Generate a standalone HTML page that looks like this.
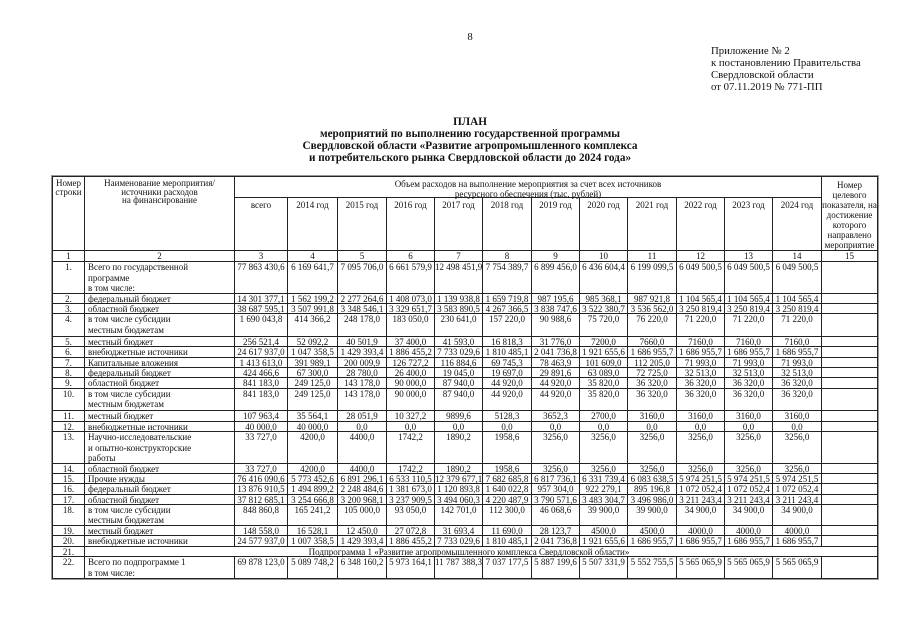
<!DOCTYPE html>
<html>
<head>
<meta charset="utf-8">
<style>
html,body{margin:0;padding:0;background:#fff;}
body{width:905px;height:640px;position:relative;overflow:hidden;font-family:"Liberation Serif","Noto Serif CJK SC",serif;color:#111;}
.pg{position:absolute;left:440px;width:60px;top:31px;text-align:center;font-size:10.75px;line-height:12px;}
.app{position:absolute;left:711px;top:45px;font-size:10.75px;line-height:12px;white-space:nowrap;}
.ttl{position:absolute;left:170px;width:600px;top:116px;text-align:center;font-size:11.2px;line-height:12px;font-weight:bold;white-space:nowrap;}
.g{position:absolute;left:52px;top:176px;display:grid;
grid-template-columns:32px 150px 53px 50px 49px 48px 48px 49px 48px 48px 49px 48px 48px 49px 56px;
grid-template-rows:21px 53px 11px 31.5px 10.4px 10.4px 22.5px 10.4px 10.4px 10.4px 10.4px 10.4px 22.5px 10.4px 10.4px 32px 10.2px 10.2px 10.2px 10.2px 21.5px 10.2px 10.2px 10.5px 22px;
border-left:1px solid #222;border-top:1px solid #222;outline:1px solid #999;}
.c{box-sizing:border-box;border-right:1px solid #222;border-bottom:1px solid #222;font-size:9px;line-height:10.5px;text-align:center;white-space:nowrap;padding:0;overflow:visible;min-width:0;min-height:0;}
.l{text-align:left;padding-left:3px;}
.h1{line-height:8.5px;padding-top:2px;}
.h2{line-height:10px;padding-top:2px;}
.h3{line-height:10px;padding-top:3px;}
.y{line-height:10px;padding-top:1.5px;}
.sp{grid-column:span 14;padding-right:24px;}
</style>
</head>
<body>
<div class="pg">8</div>
<div class="app">Приложение № 2<br>к постановлению Правительства<br>Свердловской области<br>от 07.11.2019 № 771-ПП</div>
<div class="ttl">ПЛАН<br>мероприятий по выполнению государственной программы<br>Свердловской области «Развитие агропромышленного комплекса<br>и потребительского рынка Свердловской области до 2024 года»</div>

<div class="g">
<div class="c h1" style="grid-column:1;grid-row:1/3">Номер<br>строки</div>
<div class="c h1" style="grid-column:2;grid-row:1/3">Наименование мероприятия/<br>источники расходов<br>на финансирование</div>
<div class="c h2" style="grid-column:3/15;grid-row:1">Объем расходов на выполнение мероприятия за счет всех источников<br>ресурсного обеспечения (тыс. рублей)</div>
<div class="c h3" style="grid-column:15;grid-row:1/3">Номер<br>целевого<br>показателя, на<br>достижение<br>которого<br>направлено<br>мероприятие</div>
<div class="c y">всего</div><div class="c y">2014 год</div><div class="c y">2015 год</div><div class="c y">2016 год</div><div class="c y">2017 год</div><div class="c y">2018 год</div><div class="c y">2019 год</div><div class="c y">2020 год</div><div class="c y">2021 год</div><div class="c y">2022 год</div><div class="c y">2023 год</div><div class="c y">2024 год</div>

<div class="c">1</div><div class="c">2</div><div class="c">3</div><div class="c">4</div><div class="c">5</div><div class="c">6</div><div class="c">7</div><div class="c">8</div><div class="c">9</div><div class="c">10</div><div class="c">11</div><div class="c">12</div><div class="c">13</div><div class="c">14</div><div class="c">15</div>

<div class="c">1.</div><div class="c l">Всего по государственной<br>программе<br>в том числе:</div><div class="c">77 863 430,6</div><div class="c">6 169 641,7</div><div class="c">7 095 706,0</div><div class="c">6 661 579,9</div><div class="c">12 498 451,9</div><div class="c">7 754 389,7</div><div class="c">6 899 456,0</div><div class="c">6 436 604,4</div><div class="c">6 199 099,5</div><div class="c">6 049 500,5</div><div class="c">6 049 500,5</div><div class="c">6 049 500,5</div><div class="c"></div>

<div class="c">2.</div><div class="c l">федеральный бюджет</div><div class="c">14 301 377,1</div><div class="c">1 562 199,2</div><div class="c">2 277 264,6</div><div class="c">1 408 073,0</div><div class="c">1 139 938,8</div><div class="c">1 659 719,8</div><div class="c">987 195,6</div><div class="c">985 368,1</div><div class="c">987 921,8</div><div class="c">1 104 565,4</div><div class="c">1 104 565,4</div><div class="c">1 104 565,4</div><div class="c"></div>

<div class="c">3.</div><div class="c l">областной бюджет</div><div class="c">38 687 595,1</div><div class="c">3 507 991,8</div><div class="c">3 348 546,1</div><div class="c">3 329 651,7</div><div class="c">3 583 890,5</div><div class="c">4 267 366,5</div><div class="c">3 838 747,6</div><div class="c">3 522 380,7</div><div class="c">3 536 562,0</div><div class="c">3 250 819,4</div><div class="c">3 250 819,4</div><div class="c">3 250 819,4</div><div class="c"></div>

<div class="c">4.</div><div class="c l">в том числе субсидии<br>местным бюджетам</div><div class="c">1 690 043,8</div><div class="c">414 366,2</div><div class="c">248 178,0</div><div class="c">183 050,0</div><div class="c">230 641,0</div><div class="c">157 220,0</div><div class="c">90 988,6</div><div class="c">75 720,0</div><div class="c">76 220,0</div><div class="c">71 220,0</div><div class="c">71 220,0</div><div class="c">71 220,0</div><div class="c"></div>

<div class="c">5.</div><div class="c l">местный бюджет</div><div class="c">256 521,4</div><div class="c">52 092,2</div><div class="c">40 501,9</div><div class="c">37 400,0</div><div class="c">41 593,0</div><div class="c">16 818,3</div><div class="c">31 776,0</div><div class="c">7200,0</div><div class="c">7660,0</div><div class="c">7160,0</div><div class="c">7160,0</div><div class="c">7160,0</div><div class="c"></div>

<div class="c">6.</div><div class="c l">внебюджетные источники</div><div class="c">24 617 937,0</div><div class="c">1 047 358,5</div><div class="c">1 429 393,4</div><div class="c">1 886 455,2</div><div class="c">7 733 029,6</div><div class="c">1 810 485,1</div><div class="c">2 041 736,8</div><div class="c">1 921 655,6</div><div class="c">1 686 955,7</div><div class="c">1 686 955,7</div><div class="c">1 686 955,7</div><div class="c">1 686 955,7</div><div class="c"></div>

<div class="c">7.</div><div class="c l">Капитальные вложения</div><div class="c">1 413 613,0</div><div class="c">391 989,1</div><div class="c">200 009,9</div><div class="c">126 727,2</div><div class="c">116 884,6</div><div class="c">69 745,3</div><div class="c">78 463,9</div><div class="c">101 609,0</div><div class="c">112 205,0</div><div class="c">71 993,0</div><div class="c">71 993,0</div><div class="c">71 993,0</div><div class="c"></div>

<div class="c">8.</div><div class="c l">федеральный бюджет</div><div class="c">424 466,6</div><div class="c">67 300,0</div><div class="c">28 780,0</div><div class="c">26 400,0</div><div class="c">19 045,0</div><div class="c">19 697,0</div><div class="c">29 891,6</div><div class="c">63 089,0</div><div class="c">72 725,0</div><div class="c">32 513,0</div><div class="c">32 513,0</div><div class="c">32 513,0</div><div class="c"></div>

<div class="c">9.</div><div class="c l">областной бюджет</div><div class="c">841 183,0</div><div class="c">249 125,0</div><div class="c">143 178,0</div><div class="c">90 000,0</div><div class="c">87 940,0</div><div class="c">44 920,0</div><div class="c">44 920,0</div><div class="c">35 820,0</div><div class="c">36 320,0</div><div class="c">36 320,0</div><div class="c">36 320,0</div><div class="c">36 320,0</div><div class="c"></div>

<div class="c">10.</div><div class="c l">в том числе субсидии<br>местным бюджетам</div><div class="c">841 183,0</div><div class="c">249 125,0</div><div class="c">143 178,0</div><div class="c">90 000,0</div><div class="c">87 940,0</div><div class="c">44 920,0</div><div class="c">44 920,0</div><div class="c">35 820,0</div><div class="c">36 320,0</div><div class="c">36 320,0</div><div class="c">36 320,0</div><div class="c">36 320,0</div><div class="c"></div>

<div class="c">11.</div><div class="c l">местный бюджет</div><div class="c">107 963,4</div><div class="c">35 564,1</div><div class="c">28 051,9</div><div class="c">10 327,2</div><div class="c">9899,6</div><div class="c">5128,3</div><div class="c">3652,3</div><div class="c">2700,0</div><div class="c">3160,0</div><div class="c">3160,0</div><div class="c">3160,0</div><div class="c">3160,0</div><div class="c"></div>

<div class="c">12.</div><div class="c l">внебюджетные источники</div><div class="c">40 000,0</div><div class="c">40 000,0</div><div class="c">0,0</div><div class="c">0,0</div><div class="c">0,0</div><div class="c">0,0</div><div class="c">0,0</div><div class="c">0,0</div><div class="c">0,0</div><div class="c">0,0</div><div class="c">0,0</div><div class="c">0,0</div><div class="c"></div>

<div class="c">13.</div><div class="c l">Научно-исследовательские<br>и опытно-конструкторские<br>работы</div><div class="c">33 727,0</div><div class="c">4200,0</div><div class="c">4400,0</div><div class="c">1742,2</div><div class="c">1890,2</div><div class="c">1958,6</div><div class="c">3256,0</div><div class="c">3256,0</div><div class="c">3256,0</div><div class="c">3256,0</div><div class="c">3256,0</div><div class="c">3256,0</div><div class="c"></div>

<div class="c">14.</div><div class="c l">областной бюджет</div><div class="c">33 727,0</div><div class="c">4200,0</div><div class="c">4400,0</div><div class="c">1742,2</div><div class="c">1890,2</div><div class="c">1958,6</div><div class="c">3256,0</div><div class="c">3256,0</div><div class="c">3256,0</div><div class="c">3256,0</div><div class="c">3256,0</div><div class="c">3256,0</div><div class="c"></div>

<div class="c">15.</div><div class="c l">Прочие нужды</div><div class="c">76 416 090,6</div><div class="c">5 773 452,6</div><div class="c">6 891 296,1</div><div class="c">6 533 110,5</div><div class="c">12 379 677,1</div><div class="c">7 682 685,8</div><div class="c">6 817 736,1</div><div class="c">6 331 739,4</div><div class="c">6 083 638,5</div><div class="c">5 974 251,5</div><div class="c">5 974 251,5</div><div class="c">5 974 251,5</div><div class="c"></div>

<div class="c">16.</div><div class="c l">федеральный бюджет</div><div class="c">13 876 910,5</div><div class="c">1 494 899,2</div><div class="c">2 248 484,6</div><div class="c">1 381 673,0</div><div class="c">1 120 893,8</div><div class="c">1 640 022,8</div><div class="c">957 304,0</div><div class="c">922 279,1</div><div class="c">895 196,8</div><div class="c">1 072 052,4</div><div class="c">1 072 052,4</div><div class="c">1 072 052,4</div><div class="c"></div>

<div class="c">17.</div><div class="c l">областной бюджет</div><div class="c">37 812 685,1</div><div class="c">3 254 666,8</div><div class="c">3 200 968,1</div><div class="c">3 237 909,5</div><div class="c">3 494 060,3</div><div class="c">4 220 487,9</div><div class="c">3 790 571,6</div><div class="c">3 483 304,7</div><div class="c">3 496 986,0</div><div class="c">3 211 243,4</div><div class="c">3 211 243,4</div><div class="c">3 211 243,4</div><div class="c"></div>

<div class="c">18.</div><div class="c l">в том числе субсидии<br>местным бюджетам</div><div class="c">848 860,8</div><div class="c">165 241,2</div><div class="c">105 000,0</div><div class="c">93 050,0</div><div class="c">142 701,0</div><div class="c">112 300,0</div><div class="c">46 068,6</div><div class="c">39 900,0</div><div class="c">39 900,0</div><div class="c">34 900,0</div><div class="c">34 900,0</div><div class="c">34 900,0</div><div class="c"></div>

<div class="c">19.</div><div class="c l">местный бюджет</div><div class="c">148 558,0</div><div class="c">16 528,1</div><div class="c">12 450,0</div><div class="c">27 072,8</div><div class="c">31 693,4</div><div class="c">11 690,0</div><div class="c">28 123,7</div><div class="c">4500,0</div><div class="c">4500,0</div><div class="c">4000,0</div><div class="c">4000,0</div><div class="c">4000,0</div><div class="c"></div>

<div class="c">20.</div><div class="c l">внебюджетные источники</div><div class="c">24 577 937,0</div><div class="c">1 007 358,5</div><div class="c">1 429 393,4</div><div class="c">1 886 455,2</div><div class="c">7 733 029,6</div><div class="c">1 810 485,1</div><div class="c">2 041 736,8</div><div class="c">1 921 655,6</div><div class="c">1 686 955,7</div><div class="c">1 686 955,7</div><div class="c">1 686 955,7</div><div class="c">1 686 955,7</div><div class="c"></div>

<div class="c">21.</div><div class="c sp">Подпрограмма 1 «Развитие агропромышленного комплекса Свердловской области»</div>

<div class="c">22.</div><div class="c l">Всего по подпрограмме 1<br>в том числе:</div><div class="c">69 878 123,0</div><div class="c">5 089 748,2</div><div class="c">6 348 160,2</div><div class="c">5 973 164,1</div><div class="c">11 787 388,3</div><div class="c">7 037 177,5</div><div class="c">5 887 199,6</div><div class="c">5 507 331,9</div><div class="c">5 552 755,5</div><div class="c">5 565 065,9</div><div class="c">5 565 065,9</div><div class="c">5 565 065,9</div><div class="c"></div>
</div>
</body>
</html>
